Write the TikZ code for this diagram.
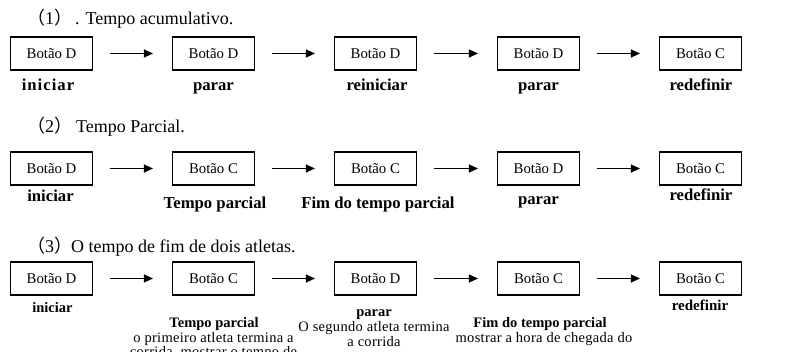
\documentclass[tikz,border=0pt]{standalone}
\usepackage{fontspec}
\setmainfont{Liberation Serif}
\newfontfamily\cjk{Noto Sans CJK SC}
\usetikzlibrary{arrows.meta}
\begin{document}
\begin{tikzpicture}[x=1pt,y=-1pt,
  btn/.style={draw, line width=1.1pt, minimum width=82pt, minimum height=33pt, inner sep=0pt,
    font=\fontsize{14.8pt}{16pt}\selectfont},
  ttl/.style={anchor=base west, inner sep=0pt, font=\fontsize{18pt}{20pt}\selectfont},
  lblA/.style={anchor=base, inner sep=0pt, font=\bfseries\fontsize{16.7pt}{18pt}\selectfont},
  lblC/.style={anchor=base, inner sep=0pt, font=\bfseries\fontsize{14.5pt}{16pt}\selectfont},
  desc/.style={anchor=base, inner sep=0pt, font=\fontsize{14.5pt}{16pt}\selectfont\addfontfeature{LetterSpace=2}},
  arr/.style={line width=1.1pt, -{Triangle[length=9pt,width=8pt]}, shorten <=17pt, shorten >=19pt}
]
\useasboundingbox (0,0) rectangle (809,352);
\clip (0,0) rectangle (809,352);

% ---------- Row 1 ----------
\node[ttl] (t1) at (27,24.5) {{\cjk （}1{\cjk ）}\hspace{3pt}. Tempo acumulativo.};
\node[btn] (a1) at (51.5,53.5) {Botão D};
\node[btn] (a2) at (213.5,53.5) {Botão D};
\node[btn] (a3) at (375.5,53.5) {Botão D};
\node[btn] (a4) at (538.5,53.5) {Botão D};
\node[btn] (a5) at (700.5,53.5) {Botão C};
\draw[arr] (a1) -- (a2);
\draw[arr] (a2) -- (a3);
\draw[arr] (a3) -- (a4);
\draw[arr] (a4) -- (a5);
\node[lblA, font=\bfseries\fontsize{16.7pt}{18pt}\selectfont\addfontfeature{LetterSpace=6}] (la1) at (48,91) {iniciar};
\node[lblA] (la2) at (213.5,91) {parar};
\node[lblA] (la3) at (377,91) {reiniciar};
\node[lblA] (la4) at (538.5,91) {parar};
\node[lblA] (la5) at (701,91) {redefinir};

% ---------- Row 2 ----------
\node[ttl] (t2) at (27,133) {{\cjk （}2{\cjk ）}\hspace{4pt}Tempo Parcial.};
\node[btn] (b1) at (51.5,168.5) {Botão D};
\node[btn] (b2) at (213.5,168.5) {Botão C};
\node[btn] (b3) at (375.5,168.5) {Botão C};
\node[btn] (b4) at (538.5,168.5) {Botão D};
\node[btn] (b5) at (700.5,168.5) {Botão C};
\draw[arr] (b1) -- (b2);
\draw[arr] (b2) -- (b3);
\draw[arr] (b3) -- (b4);
\draw[arr] (b4) -- (b5);
\node[lblA] (lb1) at (50.5,202) {iniciar};
\node[lblA] (lb2) at (215,209) {Tempo parcial};
\node[lblA] (lb3) at (378,209) {Fim do tempo parcial};
\node[lblA] (lb4) at (538.5,205) {parar};
\node[lblA] (lb5) at (701,201) {redefinir};

% ---------- Row 3 ----------
\node[ttl] (t3) at (27,253) {{\cjk （}3{\cjk ）}\hspace{-1pt}O tempo de fim de dois atletas.};
\node[btn] (c1) at (51.5,278.5) {Botão D};
\node[btn] (c2) at (213.5,278.5) {Botão C};
\node[btn] (c3) at (375.5,278.5) {Botão D};
\node[btn] (c4) at (538.5,278.5) {Botão C};
\node[btn] (c5) at (700.5,278.5) {Botão C};
\draw[arr] (c1) -- (c2);
\draw[arr] (c2) -- (c3);
\draw[arr] (c3) -- (c4);
\draw[arr] (c4) -- (c5);
\node[lblC] (lc1) at (52.5,313) {iniciar};
\node[lblC] (lc2) at (214,328) {Tempo parcial};
\node[desc] (dc2a) at (213.5,342.5) {o primeiro atleta termina a};
\node[desc] (dc2b) at (213.5,357) {corrida, mostrar o tempo de};
\node[lblC] (lc3) at (374,317) {parar};
\node[desc] (dc3a) at (374,332) {O segundo atleta termina};
\node[desc] (dc3b) at (374,347) {a corrida};
\node[lblC] (lc4) at (540,328) {Fim do tempo parcial};
\node[desc] (dc4a) at (544,342.5) {mostrar a hora de chegada do};
\node[lblC, font=\bfseries\fontsize{15pt}{16pt}\selectfont] (lc5) at (700,311) {redefinir};
\end{tikzpicture}
\end{document}
